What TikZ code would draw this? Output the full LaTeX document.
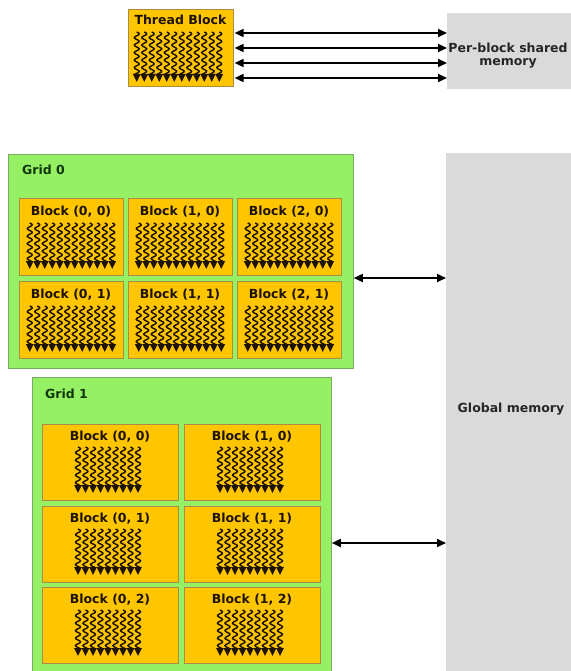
\documentclass[tikz,border=0pt]{standalone}
\usepackage{fontspec}
\setmainfont{DejaVu Sans}
\usetikzlibrary{arrows.meta}
\definecolor{blkfill}{RGB}{255,198,0}
\definecolor{blkdraw}{RGB}{170,140,70}
\definecolor{gridfill}{RGB}{150,240,100}
\definecolor{griddraw}{RGB}{120,170,100}
\definecolor{memfill}{RGB}{218,218,218}
\definecolor{ink}{RGB}{30,18,0}
\definecolor{gridtext}{RGB}{15,55,10}

\newcommand\drawthreads[5]{% center x, count, spacing, top y, tip y
  \pgfmathsetmacro\thya{#4}%
  \pgfmathsetmacro\thyb{#5-7}%
  \pgfmathsetmacro\thyt{#5}%
  \foreach \i in {1,...,#2}{%
    \pgfmathsetmacro\xx{#1+(\i-(#2+1)/2)*#3}%
    \draw[thread] plot[variable=\t, domain=\thya:\thyb, samples=45, smooth] ({\xx+2.5*sin((\t-\thya)*48)},\t);
    \fill[ink] (\xx-3.9,\thyb-1) -- (\xx+3.9,\thyb-1) -- (\xx,\thyt) -- cycle;
  }%
}

\begin{document}
\begin{tikzpicture}[x=1pt, y=-1pt,
  font=\bfseries\fontsize{12.5}{13}\selectfont,
  blk/.style={draw=blkdraw, fill=blkfill, line width=0.6pt, anchor=north west, inner sep=0pt},
  gridbox/.style={draw=griddraw, fill=gridfill, line width=0.8pt, anchor=north west, inner sep=0pt},
  mem/.style={fill=memfill, draw=none, anchor=north west, inner sep=0pt},
  thread/.style={draw=ink, line width=1.45pt},
  lbl/.style={text=ink, inner sep=0pt},
  gridlbl/.style={text=gridtext, anchor=west, inner sep=0pt},
  biarrow/.style={{Triangle[length=9pt,width=8pt]}-{Triangle[length=9pt,width=8pt]}, line width=1.7pt, draw=black}]

\useasboundingbox (0,0) rectangle (570,671);

% memories
\node[mem, minimum width=134pt, minimum height=76pt] (shm) at (447,13) {};
\node[lbl, align=center, text=black!85] (shml) at (508,56) {Per-block shared\\memory};
\node[mem, minimum width=134pt, minimum height=525pt] (gm) at (446,153) {};
\node[lbl, text=black!85] (gml) at (511,409) {Global memory};

% thread block
\node[blk, minimum width=105pt, minimum height=77pt] (tb) at (128,9) {};
\node[lbl] (tbl) at (180.5,20) {Thread Block};
\drawthreads{178}{12}{7.5}{32}{82}

\foreach \k/\yy in {1/33,2/48,3/63,4/78}{
  \coordinate (ta\k) at (0,\yy);
  \draw[biarrow, shorten <=1pt] (tb.east |- ta\k) -- (shm.west |- ta\k);
}

% grid 0
\node[gridbox, minimum width=345pt, minimum height=214pt] (g0) at (8,154) {};
\node[gridlbl] (g0l) at (22,170) {Grid 0};
\foreach \c in {0,1,2}{
  \foreach \r in {0,1}{
    \pgfmathsetmacro\bx{19+109*\c}
    \pgfmathsetmacro\by{198+83*\r}
    \node[blk, minimum width=104pt, minimum height=77pt] (g0b\c\r) at (\bx,\by) {};
    \node[lbl] (g0b\c\r-l) at (\bx+52,\by+14) {Block (\c, \r)};
    \drawthreads{\bx+52}{12}{7.5}{\by+25}{\by+71}
  }
}

% grid 1
\node[gridbox, minimum width=299pt, minimum height=305pt] (g1) at (32,377) {};
\node[gridlbl] (g1l) at (45,394) {Grid 1};
\foreach \c in {0,1}{
  \foreach \r/\ry in {0/424,1/506,2/587}{
    \pgfmathsetmacro\bx{42+142*\c}
    \node[blk, minimum width=136pt, minimum height=76pt] (g1b\c\r) at (\bx,\ry) {};
    \node[lbl] (g1b\c\r-l) at (\bx+68,\ry+13) {Block (\c, \r)};
    \drawthreads{\bx+66}{9}{7.5}{\ry+23}{\ry+69}
  }
}

% grid to global memory
\coordinate (ga0) at (0,278);
\coordinate (ga1) at (0,543);
\draw[biarrow] (g0.east |- ga0) -- (gm.west |- ga0);
\draw[biarrow] (g1.east |- ga1) -- (gm.west |- ga1);
\end{tikzpicture}
\end{document}
